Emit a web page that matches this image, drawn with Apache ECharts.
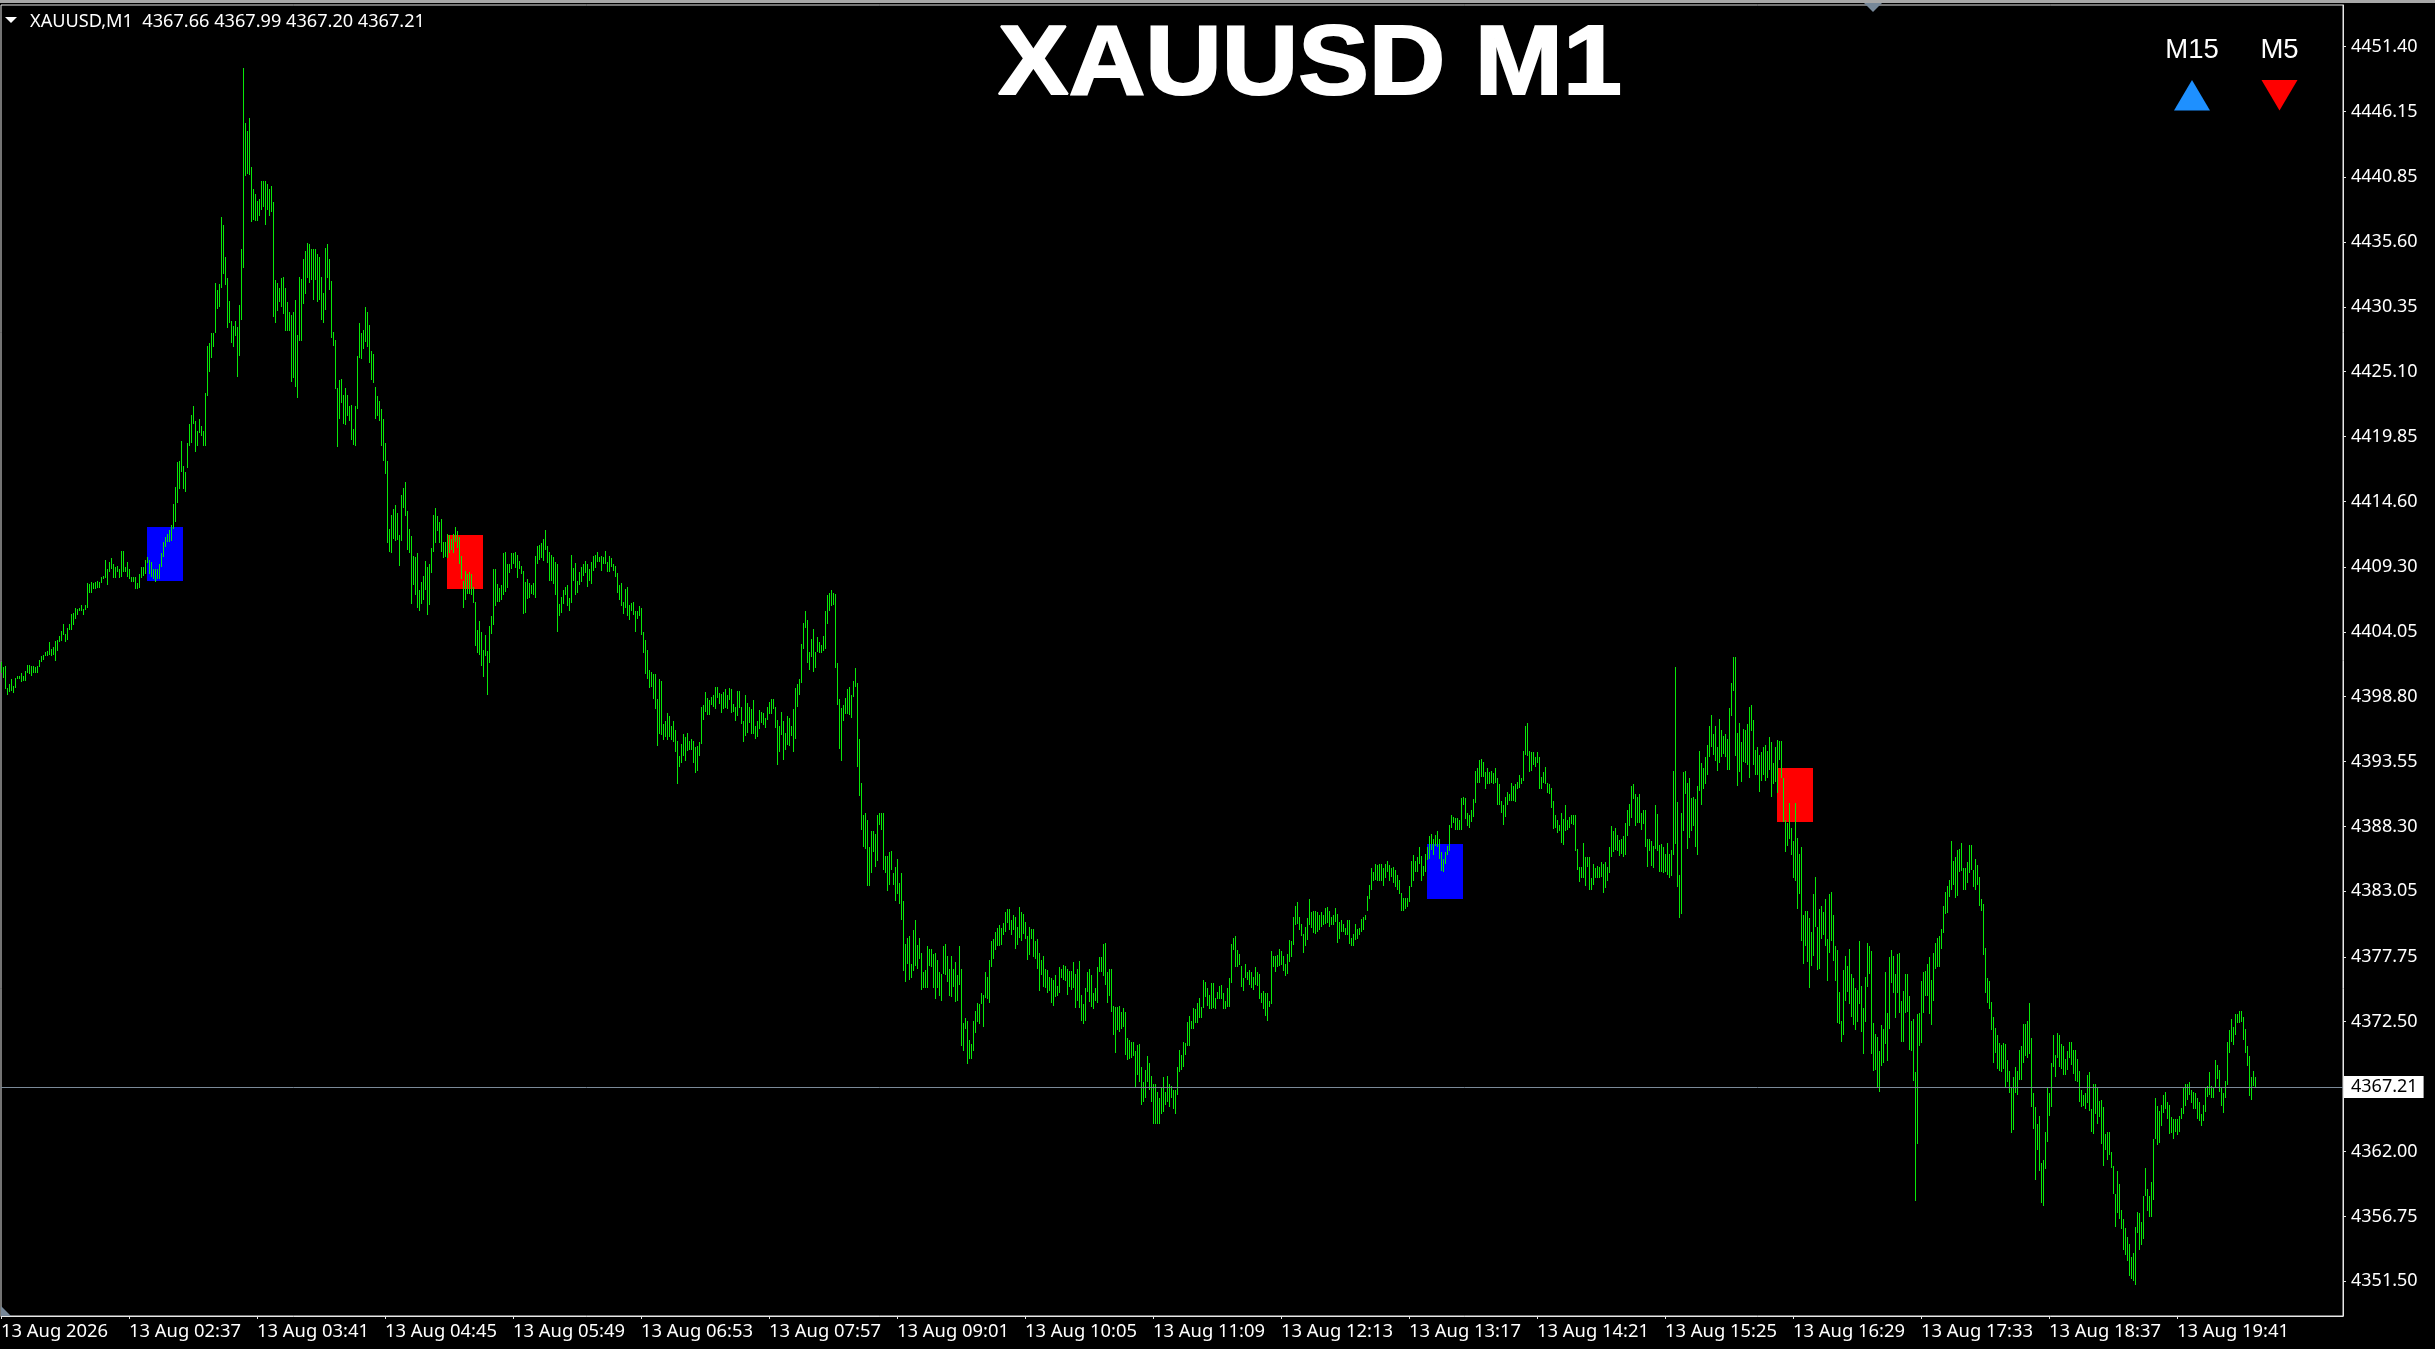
<!DOCTYPE html>
<html><head><meta charset="utf-8">
<style>html,body{margin:0;padding:0;background:#000}#c{width:2435px;height:1349px}</style>
<script src="https://cdn.jsdelivr.net/npm/echarts@6/dist/echarts.min.js"></script>
</head><body><div id="c"></div>
<script>
// Values. Each list is high,low,high,low,... per one-minute bar,
// in tenths of a dollar above priceBase.
const priceBase = 4340;
const barsA = [616,607,612,603,613,594,595,589,598,592,602,593,597,591,603,595,605,602,605,602,607,600,605,601,609,601,614,607,614,606,613,605,613,607,612,607,613,607,618,612,621,616,622,618,624,621,625,621,632,622,627,621,628,622,633,617,634,625,637,632,641,633,647,638,639,632,644,634,647,642,655,642,656,646,660,651,659,654,660,657,662,657,659,654,662,658,680,660,679,672,681,672,680,675,681,675,682,676,681,676,685,680,686,683,699,684,691,678,697,689,700,691,695,684,693,684,694,689,691,684,706,685,706,689,693,689,697,685,691,683,685,681,685,681,685,675,680,675,687,676,693,684,693,686,699,687,701,696,699,687,697,685,691,683,691,681,691,683,695,683,704,693,713,701,717,709,720,713,723,713,727,714,744,724,758,729,778,745,779,756,795,770,775,756,770,754,793,773,809,791,816,793,823,809,811,786,803,791,813,801,807,799,803,791,834,791,872,831,874,851,882,862,882,871,923,882,917,902,922,903,976,919,970,930,944,921,927,886,908,890,892,874,888,871,892,880,887,847,905,864,950,893,1097,935,1052,1009,1046,1011,1056,1010,1017,972,999,974,995,973,989,973,991,977,1005,982,1005,984,1005,970,1003,982,999,977,1001,980,988,895,925,890,923,900,919,907,927,903,928,898,919,884,907,884,899,884,897,843,899,846,909,839,881,830,928,876,926,876,942,906,949,914,955,927,954,923,950,925,950,909,950,925,946,907,944,909,928,893,915,890,951,901,954,927,942,917,924,878,883,872,877,837,838,790,844,813,845,826,832,809,838,808,832,815,823,811,824,796,805,792,823,791,864,821,890,862,882,861,885,869,903,875,899,871,889,858,868,844,865,842,839,813,831,815,827,811,821,791,813,779,793,768,779,712,724,705,735,704,740,716,743,714,737,715,719,694];
const barsB = [751,714,757,741,762,734,738,707,724,704,718,663,702,678,701,670,704,660,674,657,681,663,686,666,698,674,693,654,695,662,708,688,735,705,741,712,734,722,729,712,732,705,713,700,713,701,720,700,719,704,716,707,720,704,725,713,722,708,717,695,702,683,682,660,690,666,687,671,689,671,687,670,677,664,665,629,642,623,649,622,640,613,626,604,638,621,625,589,645,615,653,639,691,646,691,661,679,665,676,665,678,666,704,670,705,673,695,676,695,688,704,691,704,695,705,692,703,684,698,691,694,687,690,655,681,656,683,667,680,668,678,671,680,670,702,668,710,695,711,699,712,700,716,698,723,707,710,696,705,682,703,682,701,679,697,670,695,640,663,653,669,656,674,663,677,670,678,661,668,657,703,664,692,682,696,670,682,672,689,678,693,681,695,686,698,688,695,677,691,682,697,679,702,690,703,692,705,697,701,697,702,690,701,695,706,695,697,689,702,689,700,693,695,690,694,685,688,672,678,666,680,661,665,655,675,660,677,653,662,650,664,657,665,654,657,640,657,651,661,653,660,638,640,623,634,606,626,602,610,595,608,596,606,586,606,578,586,548,602,558,601,557,566,553,568,555,575,553,572,555,564,553,568,551,561,543,552,517,540,531,550,534,558,540,555,536,559,544,552,545,554,545,552,534,547,526,548,528,551,540,580,550,581,569,592,576,587,573,585,573,588,581,589,580,596,578,596,587,591,582,590,575,592,578,594,579,589,578,595,585,594,575,582,576,580,568,593,572,593,579,580,566,568,551,589,556,583,559,580,567,578,558,585,558,564,554,568,555,577,562,576,567,575,565,571,563,580,569,584,574,586,574,586,578,580,563,569,533,564,543,576,557,568,537,559,545,572,549,571,548,564,556,578,543,595,554,598,580,602,589];
const barsC = [631,599,648,627,657,644,650,615,624,610,635,620,643,608,624,611,636,624,632,623,630,623,637,625,657,627,670,647,672,657,674,661,672,662,671,611,615,581,586,546,579,536,581,568,587,574,594,574,596,573,589,571,601,588,611,596,599,531,554,508,518,480,492,466,494,465,488,435,466,435,479,445,479,462,477,450,492,455,494,484,494,480,494,448,459,445,459,431,462,436,463,448,445,436,450,423,457,428,437,420,445,407,423,366,388,357,393,372,394,359,372,360,399,366,407,370,387,368,393,376,381,351,365,352,367,352,386,352,384,370,384,369,380,352,381,343,375,352,365,346,364,342,386,364,388,363,378,357,368,346,378,345,368,353,373,341,363,342,386,355,368,305,324,301,328,319,326,291,310,295,307,295,326,301,334,316,340,325,339,323,348,339,347,321,365,344,361,343,375,340,390,369,392,376,398,383,401,386,403,386,401,387,405,395,414,398,416,405,416,399,407,395,411,399,410,384,402,387,418,393,414,390,412,396,406,392,394,375,402,379,400,392,400,377,390,376,392,368,381,350,375,363,378,353,368,352,367,348,361,350,360,340,359,338,363,345,354,346,369,348,368,360,371,359,370,358,368,347,366,353,366,351,373,352,364,336,368,342,374,336,347,326,339,323,352,326,365,349,368,341,363,337,348,335,352,342,369,340,377,365,377,365,388,362,389,355,365,340,368,346,368,333,338,314,337,300,337,318,338,317,333,319,336,321,333,298,312,294,310,295];
const barsD = [309,296,309,297,301,271,306,282,307,276,288,258,276,260,286,263,297,276,292,270,281,260,275,242,275,242,268,242,263,242,271,250,280,252,268,258,281,260,275,256,273,263,270,254,270,250,288,266,302,284,298,286,309,288,308,298,325,305,330,305,326,319,336,319,335,324,340,324,344,328,337,328,359,336,357,345,352,338,347,335,356,335,356,336,344,335,349,343,354,343,355,343,348,335,342,335,352,337,360,337,388,356,393,383,394,369,383,369,380,371,370,353,360,350,372,360,365,359,367,355,365,352,361,351,369,355,365,354,364,343,348,340,350,335,348,330,348,326,342,337,382,339,378,369,378,365,379,369,384,370,382,371,378,366,372,362,380,364,391,373,390,377,410,387,419,403,422,404,410,399,404,394,396,381,402,386,409,391,424,403,414,401,415,397,415,396,414,398,411,399,414,402,411,403,417,404,418,405,415,402,410,403,411,403,417,406,412,389,406,392,407,398,404,398,401,395,407,395,407,388,393,386,396,386,404,391,400,392,401,395,408,398,410,399,411,407,427,415,436,424,449,432,446,439,453,440,452,439,453,439,453,439,449,435,453,441,455,446,452,439,449,442,450,437,448,434,444,432,440,428,429,415,425,415,425,416,425,418,435,422,455,434,460,439,455,446,458,446,466,453,459,439,451,443,461,446,466,456,475,457,477,464,473,460,476,467,479,466,473,457,462,447,457,446,462,453,467,460,484,463,492,482,491,486,490,480,490,480,488,480,506,480,507,500,506,489,494,483,492,482,496,487,505,491,528,502,530,518,537,518,538,523,535,523,527,513,530,517,527,517,528,518,526,517,530,518,522,500,517,500,504,494,500,484,507,491,511,500,509,504,518,504,516,504,517,503,519,513,525,514];
const barsE = [522,517,544,520,564,541,567,540,544,527,543,528,543,533,539,531,543,534,539,513,523,513,527,518,531,517,518,510,517,509,514,498,504,481,492,482,488,478,484,479,494,470,489,468,500,479,488,480,491,482,492,485,492,484,492,463,465,448,450,438,450,441,470,441,458,435,458,450,458,432,441,432,453,436,449,441,451,441,450,441,454,442,453,429,454,433,450,439,466,445,483,458,479,462,482,464,476,463,472,459,473,461,475,458,486,460,496,475,501,483,516,490,517,505,509,483,507,486,509,486,494,480,496,485,496,466,473,450,473,463,471,451,467,449,500,465,493,463,468,446,469,446,466,445,461,446,470,444,461,441,464,443,528,460,612,469,503,434,444,409,494,412,527,479,528,509,518,465,522,474,506,479,507,483,505,466,516,460,544,512,534,500,530,513,539,517,549,525,564,539,573,547,558,541,564,536,547,528,570,534,561,539,556,542,558,539,554,529,579,529,599,572,620,593,620,540,559,516,567,527,551,519,562,535,561,534,566,533,580,522,581,560,569,533,545,525,547,525,541,511,543,520,547,525,549,520,544,522,555,529,551,507,534,517,547,519,553,510,552,537,552,522,522,487,488,462,486,467,502,473,482,460,471,441,502,439,474,416,461,428,466,390,411,372,415,386,415,373,409,352,398,370,428,378,442,402,402,367,416,368,419,392,414,395,424,386,392,358,428,381,430,390,411,374,386,358,383,324,349,323,326,309,367,314,378,342,370,349,384,339,364,329,360,322,352,318,351,325,390,339,354,317,336,299,361,325,389,353,386,364,382,299,324,285,315,286,313,271,301,268];
const barsF = [322,289,319,292,365,307,332,293,377,319,383,356,378,348,364,328,380,348,381,332,342,309,350,309,364,332,364,333,346,302,326,301,327,277,284,180,331,226,332,305,358,308,365,332,366,346,372,346,377,331,359,322,381,342,389,368,393,369,394,369,400,384,419,397,430,412,435,413,440,426,471,432,455,436,458,425,464,427,465,446,470,447,449,432,449,432,454,437,468,445,468,448,448,434,457,432,452,436,442,419,424,415,420,379,385,348,360,340,358,335,341,318,329,292,320,300,314,287,308,285,306,284,308,287,307,272,294,276,285,267,271,235,280,237,288,267,285,266,302,278,305,278,323,292,323,297,326,296,340,299,312,256,267,238,256,197,242,221,249,204,211,178,213,176,236,206,272,228,267,249,292,256,314,288,298,280,316,296,314,288,307,287,305,282,295,282,301,286,309,296,309,290,302,283,302,277,295,276,285,260,270,256,266,257,267,254,282,259,284,253,254,236,275,234,275,250,272,242,261,248,262,226,256,208,234,221,236,213,236,217,220,207,208,186,186,159,204,170,194,165,173,157,165,140,158,136,151,131,145,119,135,117,138,115,159,112,171,154,170,140,163,144,184,149,207,184,190,172,184,167,195,167,230,181,263,230,257,225,253,227,258,241,266,251,268,254,260,246,258,234,248,235,246,230,246,236,246,233,249,236,255,246,272,250,275,257,275,262,276,266,270,259,268,254,267,254,263,246,260,245,250,241,258,245,271,252,273,264,284,266,273,263,271,263,294,272,290,279,286,268,272,257,267,251,277,263,309,274,318,300,327,309,321,306,331,314,331,324,334,324,334,325,329,310,319,300,305,289,297,265,280,262,285,273,280,272];

const barSeries = barsA.concat(barsB, barsC, barsD, barsE, barsF);
const yTicks = [4451.40,4446.15,4440.85,4435.60,4430.35,4425.10,4419.85,4414.60,4409.30,4404.05,4398.80,4393.55,4388.30,4383.05,4377.75,4372.50,4362.00,4356.75,4351.50];
const xTickLabels = ['13 Aug 2026','13 Aug 02:37','13 Aug 03:41','13 Aug 04:45','13 Aug 05:49','13 Aug 06:53','13 Aug 07:57','13 Aug 09:01','13 Aug 10:05','13 Aug 11:09','13 Aug 12:13','13 Aug 13:17','13 Aug 14:21','13 Aug 15:25','13 Aug 16:29','13 Aug 17:33','13 Aug 18:37','13 Aug 19:41'];
const barsPerLabel = 64;
const lastPrice = 4367.21;
const headerText = 'XAUUSD,M1  4367.66 4367.99 4367.20 4367.21';
// bar-index start, bar-index end, top price, bottom price, colour
const boxes = [[73,91,4412.53,4408.17,'#0000ff'],[223,241,4411.89,4407.52,'#ff0000'],[713,731,4386.88,4382.43,'#0000ff'],[888,906,4393.03,4388.66,'#ff0000']];

const bars = [];
for (let i = 0; i * 2 < barSeries.length; i++) {
  bars.push([i, priceBase + barSeries[2 * i] / 10, priceBase + barSeries[2 * i + 1] / 10]);
}
const xTicks = xTickLabels.map((_, i) => i * barsPerLabel);
const font = 'Noto Sans';
const chart = echarts.init(document.getElementById('c'), null, {renderer: 'canvas'});
chart.setOption({
  animation: false,
  backgroundColor: '#000',
  title: [
    {text: headerText, left: 25, top: 8, textStyle: {color: '#fff', fontFamily: font, fontWeight: 'normal', fontSize: 18.15}}
  ],
  grid: {left: 1, top: 5, width: 2342, height: 1311, outerBoundsMode: 'none', show: true, borderColor: '#e8e8e8', borderWidth: 1, backgroundColor: '#000'},
  xAxis: {
    type: 'value', min: 0, max: 1171, splitLine: {show: false},
    axisLine: {show: true, onZero: false, lineStyle: {color: '#e8e8e8'}},
    axisTick: {show: true, length: 3, customValues: xTicks, lineStyle: {color: '#e8e8e8'}},
    axisLabel: {customValues: xTicks, align: 'left', margin: 7, color: '#fff', fontFamily: font, fontSize: 18.4, hideOverlap: false,
      formatter: v => xTickLabels[Math.round(v / barsPerLabel)]}
  },
  yAxis: {
    type: 'value', position: 'right', min: 4348.69, max: 4454.77, splitLine: {show: false},
    axisLine: {show: true, onZero: false, lineStyle: {color: '#e8e8e8'}},
    axisTick: {show: true, length: 3, customValues: yTicks, lineStyle: {color: '#e8e8e8'}},
    axisLabel: {customValues: yTicks, margin: 8, color: '#fff', fontFamily: font, fontSize: 18, hideOverlap: false,
      formatter: v => v.toFixed(2)}
  },
  series: [
    {
      type: 'custom', z: 1, clip: false, silent: true, data: boxes, encode: {x: [0, 1], y: [2, 3]},
      renderItem: (p, api) => {
        const a = api.coord([api.value(0), api.value(2)]);
        const b = api.coord([api.value(1), api.value(3)]);
        return {type: 'rect', shape: {x: Math.round(a[0]), y: Math.round(a[1]), width: Math.round(b[0]) - Math.round(a[0]), height: Math.round(b[1]) - Math.round(a[1])}, style: {fill: boxes[p.dataIndex][4]}};
      }
    },
    {
      type: 'custom', z: 2, clip: false, silent: true, progressive: 0, data: bars, encode: {x: 0, y: [1, 2]},
      renderItem: (p, api) => {
        const a = api.coord([api.value(0), api.value(1)]);
        const b = api.coord([api.value(0), api.value(2)]);
        return {type: 'rect', shape: {x: Math.round(a[0]), y: Math.round(a[1]), width: 1, height: Math.max(1, Math.round(b[1]) - Math.round(a[1]))}, style: {fill: '#08e808', blend: 'lighter'}};
      }
    },
    {
      type: 'line', z: 3, silent: true, showSymbol: false, data: [],
      markLine: {silent: true, symbol: 'none', animation: false, precision: 2,
        lineStyle: {color: '#7b8a99', width: 1, type: 'solid'},
        label: {position: 'end', distance: 1, formatter: () => lastPrice.toFixed(2), color: '#000', backgroundColor: '#fff', padding: [3, 6, 1, 7], fontFamily: font, fontSize: 18},
        data: [{yAxis: lastPrice}]}
    }
  ],
  graphic: [
    {type: 'rect', z: 10, shape: {x: 0, y: 0, width: 2435, height: 3}, style: {fill: '#a8a8a8'}},
    {type: 'polygon', z: 10, shape: {points: [[5, 17], [17, 17], [11, 23]]}, style: {fill: '#fff'}},
    {type: 'polygon', z: 10, shape: {points: [[1, 1306], [11, 1316], [1, 1316]]}, style: {fill: '#778899'}},
    {type: 'polygon', z: 10, shape: {points: [[1864, 3], [1882, 3], [1873, 12]]}, style: {fill: '#778899'}},
    {type: 'polygon', z: 10, shape: {points: [[2192, 80], [2210, 110.5], [2174, 110.5]]}, style: {fill: '#1e90ff'}},
    {type: 'polygon', z: 10, shape: {points: [[2261.5, 80], [2297.5, 80], [2279.5, 110.5]]}, style: {fill: '#ff0000'}},
    {type: 'text', z: 10, x: 1310, y: 67, scaleX: 1.07, style: {x: 0, y: 0, text: 'XAUUSD M1', fill: '#fff', stroke: '#fff', lineWidth: 2, font: 'bold 99px "Liberation Sans"', textAlign: 'center', textVerticalAlign: 'middle'}},
    {type: 'text', z: 10, style: {x: 2192, y: 50, text: 'M15', fill: '#fff', font: '27.5px "Liberation Sans"', textAlign: 'center', textVerticalAlign: 'middle'}},
    {type: 'text', z: 10, style: {x: 2279.5, y: 50, text: 'M5', fill: '#fff', font: '27.5px "Liberation Sans"', textAlign: 'center', textVerticalAlign: 'middle'}}
  ]
});
</script></body></html>
